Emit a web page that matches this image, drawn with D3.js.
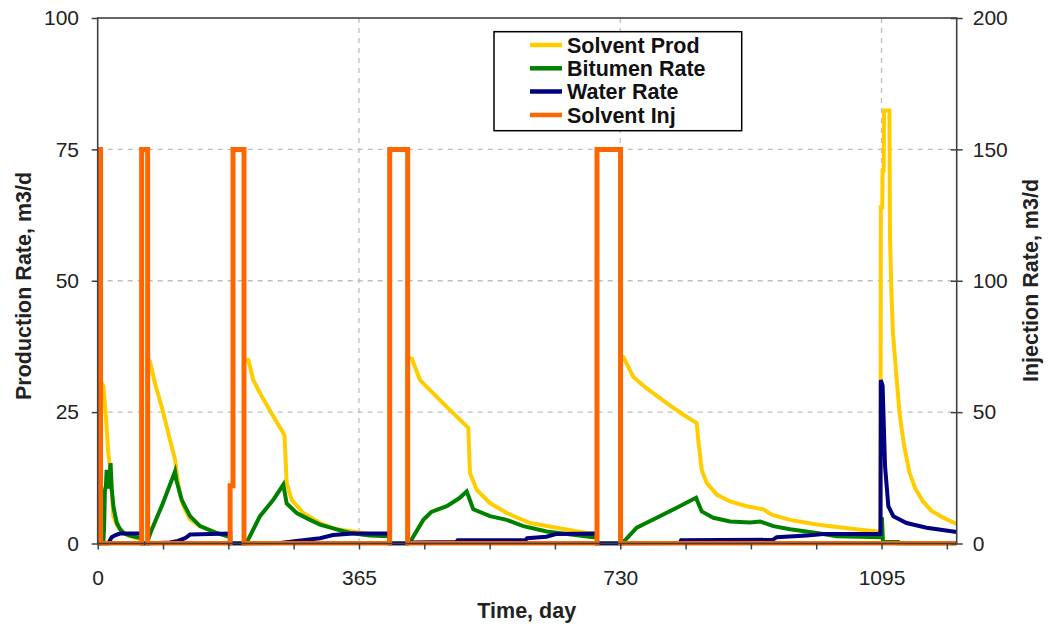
<!DOCTYPE html>
<html><head><meta charset="utf-8">
<script src="https://cdn.jsdelivr.net/npm/d3@7"></script>
<style>
body{margin:0;background:#fff}
svg{display:block}
text{font-family:"Liberation Sans",Arial,sans-serif}
</style>
</head><body>
<svg id="c" width="1049" height="632"></svg>
<script>
// ---------------- DATA ----------------
const seriesNames = ["Solvent Prod", "Bitumen Rate", "Water Rate", "Solvent Inj"];
const seriesColors = ["#FFCC00", "#008000", "#000080", "#FF6600"];

const leftTicks = [0, 25, 50, 75, 100];
const rightTicks = [0, 50, 100, 150, 200];
const xLabelDays = [0, 365, 730, 1095];

// [day, m3/d] – left axis
const solventProd = [
  [0,0],[4,0],[4,31],[7.8,30],[11.6,24],[14.8,17.2],[18.2,13.4],[21.8,5.2],[26.5,3.6],[31.2,2.7],[40.5,1.6],[54.5,1.0],[61.4,0.9],[61.4,0],
  [69.8,0],[69.8,35],[73,34.6],[80,30.5],[89.4,26],[101,19.7],[108,16],[110.4,13.4],[115,9.2],[120,7],[129,4.6],[143,3.3],[152.3,2.8],[166.2,2],[180.2,1.4],[185,1.3],[185,0],
  [204.4,0],[204.4,35],[210.4,34.9],[217.4,31.1],[229.1,28],[245.3,24.2],[259.3,21],[261,20.5],[264,11.5],[271,8.3],[287.2,5.8],[310.6,3.9],[333.9,2.7],[357,2.3],[380,1.8],[407.9,1.6],[407.9,0],
  [433,0],[433,35.2],[438.7,35.2],[450.3,31.1],[464.2,29.2],[487.6,26],[517.7,22],[520.1,13.4],[529.5,10.2],[548,7.7],[571.4,5.8],[604,3.9],[641.3,3],[683.2,2],[697.5,1.9],[697.5,0],
  [730.4,0],[730.4,35.5],[734.3,35.5],[748.2,31.7],[767,29.5],[795,26.7],[818.1,24.5],[836.8,22.9],[839,19.7],[843.8,14],[850.8,11.5],[864.8,9.3],[883.4,8],[906.7,7.1],[929.9,6.5],[941.6,5.5],[967.2,4.5],[1004.5,3.6],[1041.6,3],[1088.3,2.3],[1093.5,2.2],
  [1094,64],[1096,64],[1096.5,71],[1098,71],[1098.5,82.4],[1106,82.4],[1106.8,58.5],[1109,47],[1111,40],[1116,31.5],[1120,25],[1126,19],[1134,13.5],[1142,10.5],[1153,8],[1165,6.2],[1180,5],[1200,3.7]
];

const bitumenRate = [
  [0,0],[4,0],[8,0.5],[9,3.3],[10,10],[11.5,11],[12.5,14],[14,10.5],[16,12],[18,15.3],[19.5,10.5],[22,7],[26.5,4],[31,2.8],[36,2],[45,1.5],[54.5,1.2],[61.4,1.1],[61.4,0],
  [69.8,0],[70.5,0.8],[75,2.5],[90,7.3],[108,13.7],[110,12],[117.4,8.3],[129,5.2],[143,3.3],[166.2,2],[180.2,1.4],[185,1.3],[185,0],
  [204.4,0],[210.4,0.8],[226.7,5.2],[245.3,8.3],[259.3,11.2],[264,7.6],[278,5.8],[296.6,4.5],[310.6,3.6],[333.9,2.7],[352.5,2.0],[380,1.5],[407.9,1.4],[407.9,0],
  [433,0],[438.7,0.8],[454.9,4.5],[466,6],[487.6,7.1],[505,8.6],[515.5,9.9],[518,9],[524.7,6.5],[548,5.2],[571.4,4.5],[594.6,3.3],[627.3,2.3],[655.2,1.8],[692.4,1.2],[697.5,1.2],[697.5,0],
  [730.4,0],[736.7,0.6],[753,3],[781,4.9],[808.9,6.8],[835.9,8.7],[838,8],[843.8,6.1],[860,4.9],[883.4,4.2],[911.5,4.0],[925.4,4.2],[943.8,3.3],[967.2,2.7],[1004.5,2.0],[1032.4,1.4],[1093,1.2],[1095.5,5],[1097,0.3],[1118,0.3],[1118.5,0],[1200,0]
];

const waterRate = [
  [0,0],[14.8,0],[19.5,1.2],[25,1.6],[31,1.9],[61.4,1.9],[61.4,0],
  [69.8,0],[101,0.2],[112,0.5],[122,1.0],[129,1.7],[185,1.9],[185,0],
  [204.4,0],[255,0.1],[278,0.5],[310.6,1.0],[328.7,1.6],[357,1.9],[407.9,1.9],[407.9,0],
  [433,0],[438.7,0.2],[501,0.3],[503,0.6],[597,0.6],[600,1.0],[627,1.3],[640,1.8],[697.5,1.9],[697.5,0],
  [730.4,0],[813,0.1],[815,0.6],[943,0.7],[948.6,1.2],[990.5,1.5],[1013.7,1.8],[1093.5,1.8],[1094,31.1],[1096.5,30],[1099.9,14.7],[1104.5,7.1],[1111.5,5.2],[1130,3.9],[1158,3.0],[1200,2.2]
];

// [day, m3/d] – right axis
const solventInj = [
  [0,150],[4,150],[4,0],[61.4,0],[61.4,150],[69.8,150],[69.8,0],
  [185,0],[185,22],[189,22],[189,150],[204.4,150],[204.4,0],
  [407.9,0],[407.9,150],[433,150],[433,0],
  [697.5,0],[697.5,150],[730.4,150],[730.4,0],[1200,0]
];

// ---------------- CHART ----------------
const svg = d3.select("#c");
const L = 97.7, R = 956.7, T = 18, B = 543.5;
const x = d3.scaleLinear().domain([0, 1200]).range([L, R]);
const yL = d3.scaleLinear().domain([0, 100]).range([B, T]);
const yR = d3.scaleLinear().domain([0, 200]).range([B, T]);

svg.append("rect").attr("width", 1049).attr("height", 632).attr("fill", "#fff");

// gridlines
const grid = svg.append("g");
[25, 50, 75].forEach(v => grid.append("line")
  .attr("x1", L).attr("x2", R).attr("y1", yL(v)).attr("y2", yL(v)));
xLabelDays.slice(1).forEach(d => grid.append("line")
  .attr("x1", x(d)).attr("x2", x(d)).attr("y1", T).attr("y2", B));
grid.selectAll("line").attr("stroke", "#bdbdbd").attr("stroke-width", 1.3).attr("stroke-dasharray", "5,5");

// clip
svg.append("clipPath").attr("id", "clip").append("rect")
  .attr("x", L).attr("y", T - 5).attr("width", R - L).attr("height", B - T + 7);

const plot = svg.append("g").attr("clip-path", "url(#clip)");
const lineL = d3.line().x(d => x(d[0])).y(d => yL(d[1]));
const lineR = d3.line().x(d => x(d[0])).y(d => yR(d[1]));

const seriesData = [solventProd, bitumenRate, waterRate];
seriesData.forEach((s, i) => plot.append("path").datum(s)
  .attr("d", lineL).attr("fill", "none").attr("stroke", seriesColors[i])
  .attr("stroke-width", 4).attr("stroke-linejoin", "miter"));
plot.append("path").datum(solventInj)
  .attr("d", lineR).attr("fill", "none").attr("stroke", seriesColors[3])
  .attr("stroke-width", 5).attr("stroke-linejoin", "miter");

// axes
const axisColor = "#404040";
const fontSize = "21px";

const gL = svg.append("g").attr("transform", `translate(${L},0)`)
  .call(d3.axisLeft(yL).tickValues(leftTicks).tickSize(6).tickSizeOuter(0).tickPadding(12.7));
const gR = svg.append("g").attr("transform", `translate(${R},0)`)
  .call(d3.axisRight(yR).tickValues(rightTicks).tickSize(6).tickSizeOuter(0).tickPadding(10));
gR.selectAll(".tick line").attr("x1", -6).attr("x2", 6);
const xTickVals = d3.range(0, 1200, 91.25);
const gB = svg.append("g").attr("transform", `translate(0,${B})`)
  .call(d3.axisBottom(x).tickValues(xTickVals).tickSize(6).tickSizeOuter(0).tickPadding(20.6)
    .tickFormat(d => xLabelDays.includes(d) ? d3.format("d")(d) : ""));

[gL, gR, gB].forEach(g => {
  g.select(".domain").remove();
  g.selectAll(".tick line").attr("stroke", axisColor).attr("stroke-width", 1.5);
  g.selectAll("text").attr("font-size", fontSize).attr("fill", "#222")
    .attr("font-family", '"Liberation Sans",Arial,sans-serif');
});

// frame
svg.append("rect").attr("x", L).attr("y", T).attr("width", R - L).attr("height", B - T)
  .attr("fill", "none").attr("stroke", axisColor).attr("stroke-width", 1.6);

// axis titles
svg.append("text").attr("x", 526.7).attr("y", 618).attr("text-anchor", "middle")
  .attr("font-size", "21.5px").attr("font-weight", "bold").attr("fill", "#222").text("Time, day");
svg.append("text").attr("transform", "translate(31,286) rotate(-90)").attr("text-anchor", "middle")
  .attr("font-size", "21.5px").attr("font-weight", "bold").attr("fill", "#222").text("Production Rate, m3/d");
svg.append("text").attr("transform", "translate(1038,280.5) rotate(-90)").attr("text-anchor", "middle")
  .attr("font-size", "21.5px").attr("font-weight", "bold").attr("fill", "#222").text("Injection Rate, m3/d");

// legend
const lg = svg.append("g");
lg.append("rect").attr("x", 494).attr("y", 31.7).attr("width", 247.7).attr("height", 99)
  .attr("fill", "#fff").attr("stroke", "#000").attr("stroke-width", 1.5);
const legendY = [45, 68.3, 91.5, 115];
seriesNames.forEach((n, i) => {
  lg.append("line").attr("x1", 530).attr("x2", 562).attr("y1", legendY[i]).attr("y2", legendY[i])
    .attr("stroke", seriesColors[i]).attr("stroke-width", 4.5);
  lg.append("text").attr("x", 567).attr("y", legendY[i]).attr("dy", "0.35em")
    .attr("font-size", "21.5px").attr("font-weight", "bold").attr("fill", "#111").text(n);
});
</script>
</body></html>
